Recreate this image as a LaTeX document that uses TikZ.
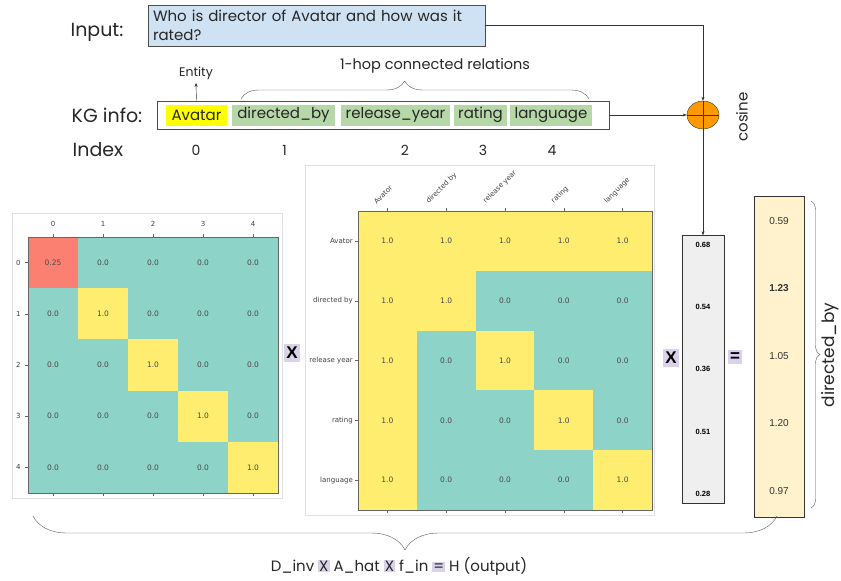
\documentclass[tikz,border=0pt]{standalone}
\usepackage{fontspec}
\setmainfont{Poppins}
\newfontfamily\plotfont{DejaVu Sans}
\newfontfamily\arialfont{Liberation Sans}
\usetikzlibrary{positioning,shapes.geometric,arrows.meta,decorations.pathreplacing}

\definecolor{cellteal}{HTML}{8DD3C7}
\definecolor{cellyellow}{HTML}{FFED6F}
\definecolor{cellred}{HTML}{FB8072}
\definecolor{qblue}{HTML}{CFE2F3}
\definecolor{kggreen}{HTML}{B6D7A8}
\definecolor{kgyellow}{HTML}{FFFF00}
\definecolor{opbg}{HTML}{D9D2E9}
\definecolor{outyellow}{HTML}{FFF2CC}
\definecolor{vecgray}{HTML}{EFEFEF}
\definecolor{sumorange}{HTML}{FF9900}

\begin{document}
\begin{tikzpicture}[x=1pt,y=-1pt,
        biglbl/.style={font=\fontsize{19}{22}\selectfont, text=black!85},
        smalllbl/.style={font=\fontsize{12.5}{14}\selectfont, text=black!85},
        kgword/.style={inner sep=1pt, minimum height=21pt, font=\fontsize{15}{17}\selectfont, text=black!85},
        cellnum/.style={font=\plotfont\fontsize{7.5}{9}\selectfont, text=black!70},
        ticklbl/.style={font=\plotfont\fontsize{7}{8}\selectfont, text=black!75},
        opbox/.style={fill=opbg, inner xsep=2pt, inner ysep=3pt, font=\arialfont\bfseries\fontsize{17}{18}\selectfont},
        vecnum/.style={font=\arialfont\bfseries\fontsize{7.5}{9}\selectfont},
        outnum/.style={font=\arialfont\fontsize{10}{12}\selectfont, text=black!80},
        conn/.style={black!80, -{Stealth[length=4pt,width=3pt]}},
        bracedec/.style={black!65, decorate},
    ]
        \useasboundingbox (0,0) rectangle (841,581);

        % question and kg row
        \node[biglbl] (inlbl) at (97,32) {Input:};
        \node[draw=black!70, fill=qblue, text width=327pt, inner xsep=5pt, minimum height=41pt,
              align=left, font=\fontsize{15}{19}\selectfont, text=black!85] (question) at (316.5,25.5)
              {Who is director of Avatar and how was it\\rated?};

        \node[biglbl] (kglbl) at (107,115) {KG info:};
        \node[draw=black!70, minimum width=452pt, minimum height=28pt] (kgbox) at (383,115) {};
        \node[kgword, fill=kgyellow, minimum width=61pt] (avatar) at (196.5,115) {Avatar};
        \node[kgword, fill=kggreen, minimum width=103pt] (directed) at (283.5,115) {directed\_by};
        \node[kgword, fill=kggreen, minimum width=109pt] (release) at (395.5,115) {release\_year};
        \node[kgword, fill=kggreen, minimum width=53pt] (rating) at (480.5,115) {rating};
        \node[kgword, fill=kggreen, minimum width=82pt] (language) at (551,115) {language};

        \node[smalllbl] (entity) at (196,73) {Entity};
        \draw[conn] (avatar.north |- kgbox.north) -- (entity.south);

        \draw[bracedec, decoration={brace, amplitude=18pt, aspect=0.47}] (241,99) -- (589,99);
        \node[font=\fontsize{14.5}{17}\selectfont, text=black!85] (hoplbl) at (435,66) {1-hop connected relations};

        \node[biglbl] (idxlbl) at (98,150) {Index};
        \foreach \x [count=\k from 0] in {196,284.5,405,483,552}
            \node[font=\fontsize{14}{16}\selectfont, text=black!85] (idx\k) at (\x,150) {\k};

        % cosine
        \node[draw=black!80, fill=sumorange, ellipse, minimum width=32pt, minimum height=28pt] (cos) at (703,115) {};
        \draw[black!80] (cos.north) -- (cos.south) (cos.west) -- (cos.east);
        \node[rotate=90, font=\fontsize{15}{17}\selectfont, text=black!85] (coslbl) at (742,117) {cosine};

        % D_inv
        \draw[black!12] (12,213) rectangle (282,498);
        \foreach \r in {0,...,4}{
            \foreach \c in {0,...,4}{
                \ifnum\r=\c
                    \ifnum\r=0 \def\cc{cellred}\def\vv{0.25}\else\def\cc{cellyellow}\def\vv{1.0}\fi
                \else
                    \def\cc{cellteal}\def\vv{0.0}
                \fi
                \fill[\cc] (28+50*\c,237+51.2*\r) rectangle ++(50,51.2);
                \node[cellnum] (d\r\c) at (53+50*\c,262.6+51.2*\r) {\vv};
            }
        }
        \draw[black!60] (28,237) rectangle (278,493);
        \foreach \i in {0,...,4}{
            \draw[black!60] (53+50*\i,237) -- ++(0,-3) (53+50*\i,493) -- ++(0,3);
            \draw[black!60] (28,262.6+51.2*\i) -- ++(-3,0);
            \node[ticklbl] (dcol\i) at (53+50*\i,224) {\i};
            \node[ticklbl, anchor=east] (drow\i) at (24,262.6+51.2*\i) {\i};
        }

        % A_hat
        \draw[black!12] (305,165) rectangle (654,515);
        \foreach \r in {0,...,4}{
            \foreach \c in {0,...,4}{
                \pgfmathtruncatemacro\one{(\r==0)||(\c==0)||(\r==\c)}
                \ifnum\one=1 \def\cc{cellyellow}\def\vv{1.0}\else\def\cc{cellteal}\def\vv{0.0}\fi
                \fill[\cc] (358+58.8*\c,211+59.8*\r) rectangle ++(58.8,59.8);
                \node[cellnum] (a\r\c) at (387.4+58.8*\c,240.9+59.8*\r) {\vv};
            }
        }
        \draw[black!60] (358,211) rectangle (652,510);
        \foreach \i/\nm/\lx in {0/Avator/377,1/directed by/430,2/release year/487,3/rating/555,4/language/608}{
            \draw[black!60] (387.4+58.8*\i,211) -- ++(0,-3) (387.4+58.8*\i,510) -- ++(0,3);
            \draw[black!60] (358,240.9+59.8*\i) -- ++(-3,0);
            \node[ticklbl, rotate=45, anchor=south west, inner sep=0pt] (acol\i) at (\lx,205) {\nm};
            \node[ticklbl, anchor=east, inner sep=1pt] (arow\i) at (354,240.9+59.8*\i) {\nm};
        }

        % f_in and H
        \node[draw=black!80, fill=vecgray, minimum width=42pt, minimum height=268pt] (fvec) at (703,369.5) {};
        \foreach \v [count=\k from 0] in {0.68,0.54,0.36,0.51,0.28}
            \node[vecnum] (f\k) at (703,245+62.2*\k) {\v};
        \node[draw=black!80, fill=outyellow, minimum width=50pt, minimum height=321pt] (hvec) at (779,357) {};
        \foreach \v [count=\k from 0] in {0.59,\textbf{1.23},1.05,1.20,0.97}
            \node[outnum] (h\k) at (779,221+67.5*\k) {\v};

        \node[opbox] (op1) at (292,353) {X};
        \node[opbox] (op2) at (671,358) {X};
        \node[opbox] (eq) at (735,357) {=};

        \draw[conn] (question.east) -| (cos.north);
        \draw[conn] (kgbox.east) -- (cos.west);
        \draw[conn] (cos.south) -- (fvec.north);

        % braces
        \draw[bracedec, decoration={brace, amplitude=9pt}] (811,201) -- (811,508);
        \node[rotate=90, font=\fontsize{17}{19}\selectfont, text=black!85] (hlbl) at (830,355) {directed\_by};
        \draw[bracedec, decoration={brace, mirror, amplitude=34pt}] (33,516) -- (777,516);
        \setlength\fboxsep{1pt}
        \node[font=\fontsize{15}{17}\selectfont, text=black!85] (formula) at (399,566)
            {D\_inv \colorbox{opbg}{X} A\_hat \colorbox{opbg}{X} f\_in \colorbox{opbg}{=} H (output)};
    \end{tikzpicture}
\end{document}
